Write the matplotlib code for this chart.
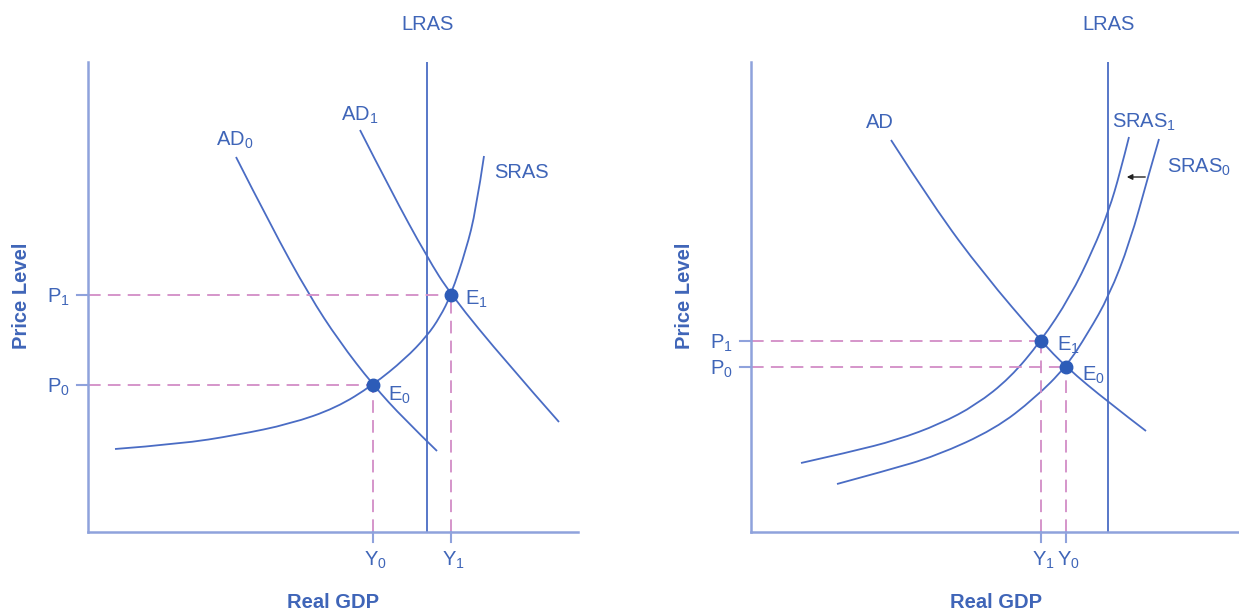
import numpy as np
import matplotlib.pyplot as plt
from matplotlib import rcParams
from matplotlib.path import Path
from matplotlib.patches import PathPatch

rcParams['font.family'] = ['Liberation Sans', 'DejaVu Sans']
rcParams['mathtext.fontset'] = 'custom'
rcParams['mathtext.rm'] = 'Liberation Sans'
rcParams['mathtext.it'] = 'Liberation Sans'

# left panel: demand shift (AD0 -> AD1), units = graph units from the origin
ad0_x = [148, 183, 221, 251, 285, 316, 349]
ad0_y = [375, 306, 237, 191, 147, 113, 81]
ad1_x = [272, 303, 339, 363, 418, 471]
ad1_y = [402, 341, 275, 237, 170, 110]
sras_x = [27, 92, 149, 202, 248, 285, 317, 339, 352, 363, 378, 388, 396]
sras_y = [83, 88, 97, 108, 124, 147, 173, 196, 215, 237, 282, 322, 376]
left_lras = 339
left_eq_x = [285, 363]   # Y0, Y1
left_eq_y = [147, 237]   # P0, P1

# right panel: supply shift (SRAS0 -> SRAS1)
ad_x = [140, 183, 232, 290, 315, 357, 395]
ad_y = [392, 325, 259, 191, 165, 130, 101]
sras1_x = [50, 99, 146, 189, 225, 259, 290, 319, 342, 358, 369, 378]
sras1_y = [69, 80, 92, 108, 127, 154, 191, 235, 282, 322, 359, 395]
sras0_x = [86, 134, 185, 244, 284, 315, 337, 358, 379, 397, 408]
sras0_y = [48, 61, 76, 103, 134, 165, 199, 236, 290, 355, 393]
right_lras = 357
right_eq_x = [315, 290]  # Y0, Y1
right_eq_y = [165, 191]  # P0, P1

curve_c = '#4a6cc4'
axis_c = '#8fa2dc'
text_c = '#3f65b8'
dot_c = '#2d5cb8'
pink = '#d28cc6'
fs = 14.5

W, H = 1239, 611
fig = plt.figure(figsize=(W / 100, H / 100), dpi=100)
fig.patch.set_facecolor('white')


def make_axes(x0, width):
    ax = fig.add_axes([x0 / W, (H - 532) / H, width / W, 470 / H])
    ax.set_xlim(0, width)
    ax.set_ylim(0, 470)
    for s in ['top', 'right']:
        ax.spines[s].set_visible(False)
    for s in ['left', 'bottom']:
        ax.spines[s].set_color(axis_c)
        ax.spines[s].set_linewidth(1.8)
    ax.set_xticks([])
    ax.set_yticks([])
    ax.patch.set_alpha(0)
    return ax


def curve(ax, xs, ys):
    # smooth quadratic-bezier path using the read points as control points
    pts = np.column_stack([xs, ys]).astype(float)
    verts = [pts[0]]
    codes = [Path.MOVETO]
    for i in range(1, len(pts) - 1):
        end = pts[-1] if i == len(pts) - 2 else (pts[i] + pts[i + 1]) / 2
        verts += [pts[i], end]
        codes += [Path.CURVE3, Path.CURVE3]
    ax.add_patch(PathPatch(Path(verts, codes), fill=False,
                           edgecolor=curve_c, lw=1.3))


def sub(base, idx):
    return base + r'$_{\mathregular{' + idx + '}}$'


def guides(ax, xs, ys, xnames, ynames):
    for x, y, xn, yn in zip(xs, ys, xnames, ynames):
        ax.plot([0, x], [y, y], color=pink, lw=1.3, dashes=(7, 4))
        ax.plot([x, x], [0, y], color=pink, lw=1.3, dashes=(7, 4))
        ax.plot([-11, 0], [y, y], color=axis_c, lw=1.5, clip_on=False)
        ax.plot([x, x], [0, -10], color=axis_c, lw=1.5, clip_on=False)
        ax.text(-18, y - 2, sub('P', yn), color=text_c, fontsize=fs,
                ha='right', va='center', clip_on=False)
        ax.text(x + 2, -28, sub('Y', xn), color=text_c, fontsize=fs,
                ha='center', va='center', clip_on=False)
    ax.plot(xs, ys, 'o', color=dot_c, markersize=9, zorder=5)


def titles(ax, lras):
    ax.axvline(lras, color=curve_c, lw=1.3)
    ax.text(lras + 1, 507, 'LRAS', color=text_c, fontsize=fs,
            ha='center', va='center', clip_on=False)
    ax.text(245, -70, 'Real GDP', color=text_c, fontsize=fs,
            fontweight='bold', ha='center', va='center', clip_on=False)
    ax.text(-66, 236, 'Price Level', color=text_c, fontsize=fs,
            fontweight='bold', rotation=90, ha='center', va='center',
            clip_on=False)


# left panel
ax1 = make_axes(88, 490)
titles(ax1, left_lras)
curve(ax1, ad0_x, ad0_y)
curve(ax1, ad1_x, ad1_y)
curve(ax1, sras_x, sras_y)
guides(ax1, left_eq_x, left_eq_y, ['0', '1'], ['0', '1'])
ax1.text(147, 392, sub('AD', '0'), color=text_c, fontsize=fs,
         ha='center', va='center')
ax1.text(272, 417, sub('AD', '1'), color=text_c, fontsize=fs,
         ha='center', va='center')
ax1.text(406, 359, 'SRAS', color=text_c, fontsize=fs, ha='left', va='center')
ax1.text(300, 137, sub('E', '0'), color=text_c, fontsize=fs,
         ha='left', va='center')
ax1.text(377, 233, sub('E', '1'), color=text_c, fontsize=fs,
         ha='left', va='center')

# right panel
ax2 = make_axes(751, 488)
titles(ax2, right_lras)
curve(ax2, ad_x, ad_y)
curve(ax2, sras1_x, sras1_y)
curve(ax2, sras0_x, sras0_y)
guides(ax2, right_eq_x, right_eq_y, ['0', '1'], ['0', '1'])
ax2.text(129, 410, 'AD', color=text_c, fontsize=fs, ha='center', va='center')
ax2.text(361, 410, sub('SRAS', '1'), color=text_c, fontsize=fs,
         ha='left', va='center', clip_on=False)
ax2.text(416, 365, sub('SRAS', '0'), color=text_c, fontsize=fs,
         ha='left', va='center', clip_on=False)
ax2.text(306, 187, sub('E', '1'), color=text_c, fontsize=fs,
         ha='left', va='center')
ax2.text(331, 157, sub('E', '0'), color=text_c, fontsize=fs,
         ha='left', va='center')
ax2.annotate('', xy=(373, 355), xytext=(397, 355),
             arrowprops=dict(arrowstyle='-|>', color='#222222', lw=1,
                             mutation_scale=8))

fig.savefig('out.png', dpi=100, facecolor='white')
